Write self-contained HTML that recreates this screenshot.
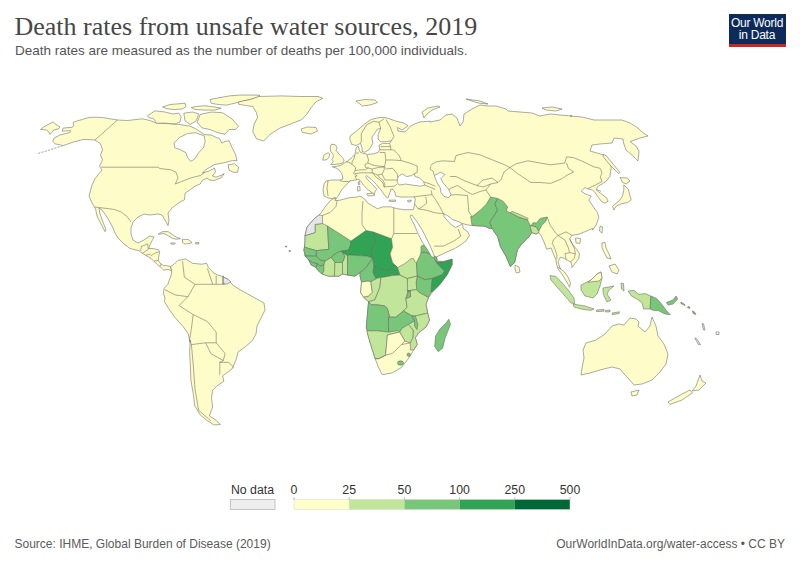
<!DOCTYPE html>
<html><head><meta charset="utf-8">
<style>
html,body{margin:0;padding:0;background:#fff;}
body{width:800px;height:564px;position:relative;overflow:hidden;font-family:"Liberation Sans",sans-serif;}
.title{position:absolute;left:14.5px;top:12px;font-family:"Liberation Serif",serif;font-size:26px;color:#474747;white-space:nowrap;}
.sub{position:absolute;left:15px;top:42.5px;font-size:13.5px;color:#555;white-space:nowrap;}
.logo{position:absolute;left:728.5px;top:14px;width:57px;height:32.5px;background:#0d2b5a;}
.logo .bar{position:absolute;left:0;bottom:0;width:100%;height:3px;background:#ce261e;}
.logo .t{position:absolute;left:0;top:2.6px;width:100%;text-align:center;color:#fff;font-size:12px;line-height:12.5px;letter-spacing:-0.25px;}
svg{position:absolute;left:0;top:0;}
.foot{position:absolute;top:537px;font-size:12px;color:#5b5b5b;white-space:nowrap;}
</style></head><body>
<div class="title">Death rates from unsafe water sources, 2019</div>
<div class="sub">Death rates are measured as the number of deaths per 100,000 individuals.</div>
<div class="logo"><div class="t">Our World<br>in Data</div><div class="bar"></div></div>
<svg width="800" height="564" viewBox="0 0 800 564">
<path d="M55.0,143.8 L52.8,141.2 L54.4,137.8 L60.0,135.0 L70.0,132.5 L70.6,130.6 L62.2,131.2 L63.1,128.1 L72.5,127.2 L73.8,125.6 L73.1,122.5 L76.2,121.2 L82.5,119.4 L88.8,117.5 L95.0,117.2 L102.5,117.5 L110.0,118.8 L117.5,120.0 L127.5,120.5 L142.5,118.8 L150.0,120.5 L156.2,123.0 L170.0,123.8 L180.0,124.5 L190.0,126.2 L195.5,128.7 L199.0,131.0 L204.3,134.5 L211.5,135.1 L216.3,137.5 L219.4,138.3 L221.8,143.1 L225.0,141.5 L229.0,140.7 L232.2,147.8 L235.4,154.2 L237.0,160.6 L232.3,160.6 L223.8,162.8 L214.5,164.5 L206.0,169.5 L202.5,172.8 L208.0,171.5 L214.5,168.2 L215.5,172.0 L212.5,176.0 L216.0,177.2 L222.0,175.0 L224.2,173.5 L221.0,178.0 L214.0,180.5 L210.0,180.2 L207.0,178.0 L202.5,180.2 L200.2,184.0 L195.0,186.2 L189.8,190.0 L185.2,193.0 L184.5,199.8 L180.0,202.0 L172.0,208.0 L168.0,213.0 L169.0,220.0 L168.0,225.6 L165.0,220.0 L162.0,215.0 L158.0,214.0 L150.0,215.0 L144.0,214.0 L138.0,217.0 L133.0,222.0 L131.0,228.0 L131.0,234.0 L133.0,240.0 L138.0,243.0 L144.0,240.0 L150.0,236.0 L154.0,237.0 L152.6,239.6 L150.4,244.0 L148.6,248.5 L153.0,248.5 L158.3,249.8 L159.7,251.6 L158.8,256.0 L158.3,260.4 L160.1,263.1 L163.7,265.7 L167.2,265.7 L170.7,266.6 L171.6,271.0 L168.1,269.3 L163.7,270.2 L160.1,266.6 L156.6,264.0 L153.9,261.3 L151.3,258.7 L146.8,256.0 L142.4,253.3 L138.9,250.7 L130.0,248.5 L124.0,244.0 L118.0,238.0 L115.0,233.0 L112.0,226.0 L107.0,217.0 L102.0,210.0 L99.0,208.0 L100.0,214.0 L103.0,222.0 L106.0,230.0 L105.0,231.6 L101.0,224.0 L97.0,216.0 L95.6,209.0 L92.0,203.0 L89.0,196.0 L92.0,185.0 L95.0,178.8 L98.8,173.8 L102.0,170.0 L99.5,166.2 L102.5,160.0 L100.5,155.0 L102.5,150.0 L100.5,143.8 L95.0,140.0 L83.8,139.4 L73.8,141.9 L63.1,145.6Z" fill="#fefcc8" stroke="#666660" stroke-width="0.55"/><path d="M170.7,266.6 L174.3,264.0 L177.8,260.4 L181.9,259.8 L185.5,258.9 L192.6,263.3 L201.4,264.2 L206.7,263.3 L208.5,267.7 L213.8,273.0 L217.4,274.8 L222.7,276.6 L228.0,279.3 L233.3,285.5 L240.4,289.9 L250.0,295.2 L264.0,303.0 L265.0,310.0 L261.0,318.0 L257.0,326.0 L256.0,334.0 L252.0,341.0 L245.0,347.0 L238.0,352.0 L236.0,360.0 L232.0,369.0 L222.7,375.8 L223.8,381.3 L217.1,385.8 L212.6,390.3 L211.5,398.1 L212.6,407.0 L209.3,416.0 L214.9,419.3 L220.4,424.5 L213.7,424.9 L207.0,420.4 L200.3,414.9 L194.7,405.9 L193.2,393.6 L190.9,380.2 L190.3,364.6 L189.6,351.2 L190.3,340.0 L189.9,342.2 L188.1,333.3 L182.8,326.2 L174.8,317.4 L168.6,308.5 L164.2,301.4 L165.1,297.9 L163.3,293.4 L164.2,288.1 L167.7,284.6 L171.3,274.8 L171.6,271.0Z" fill="#fefcc8" stroke="#666660" stroke-width="0.55"/><path d="M336.0,199.0 L328.0,198.0 L324.0,196.0 L323.0,190.0 L324.0,184.0 L326.0,181.0 L332.0,180.0 L340.0,180.0 L343.0,179.0 L342.0,174.0 L339.0,170.0 L336.0,168.0 L332.4,166.8 L336.6,166.3 L339.3,165.7 L341.9,164.8 L345.1,162.5 L347.8,160.9 L351.9,157.5 L355.0,154.4 L355.6,150.0 L356.9,146.9 L358.1,146.2 L360.0,151.9 L362.5,153.1 L367.5,154.4 L373.8,153.8 L378.1,152.3 L379.9,149.6 L379.0,145.2 L382.5,143.4 L389.6,143.4 L391.4,140.8 L386.0,141.7 L380.7,141.7 L378.1,139.0 L378.1,134.6 L380.7,128.4 L377.2,129.3 L374.5,133.7 L371.9,137.2 L372.8,143.4 L369.2,149.6 L364.8,152.3 L362.1,151.4 L362.1,147.9 L360.4,143.4 L356.0,145.5 L351.5,144.3 L349.7,138.1 L350.6,135.5 L357.7,130.1 L364.8,123.9 L371.0,119.5 L378.1,117.7 L384.3,117.3 L388.7,118.6 L396.7,121.3 L403.8,123.1 L408.2,125.7 L402.0,130.1 L397.6,127.5 L398.0,131.0 L405.0,132.0 L410.0,126.5 L415.0,123.8 L420.0,121.9 L430.0,121.2 L430.0,122.0 L440.0,120.0 L446.0,115.0 L452.0,114.0 L457.0,118.0 L460.0,126.0 L463.0,122.0 L464.0,114.0 L472.0,109.0 L480.0,105.0 L488.0,106.0 L496.0,106.0 L506.0,109.0 L508.0,111.0 L520.0,112.0 L532.0,113.0 L540.0,116.0 L550.0,114.0 L560.0,115.0 L572.0,116.0 L570.0,116.0 L582.0,117.0 L594.0,120.0 L610.0,120.0 L622.0,120.0 L630.0,123.0 L638.0,128.0 L642.0,132.0 L648.0,136.0 L640.0,138.0 L630.0,141.6 L636.0,146.0 L639.0,151.0 L638.0,161.0 L633.0,156.0 L626.0,150.0 L623.6,143.0 L623.0,139.0 L614.0,138.0 L612.0,143.0 L600.0,144.0 L592.0,145.0 L590.0,151.0 L604.0,155.0 L610.0,162.0 L608.8,160.0 L611.2,167.5 L610.0,176.2 L606.2,181.2 L602.5,183.8 L600.0,185.0 L597.5,186.9 L596.2,190.0 L601.2,193.8 L606.2,197.5 L608.1,201.2 L605.0,203.1 L601.2,201.2 L597.5,196.2 L595.0,192.5 L592.5,190.0 L587.5,188.8 L585.0,187.5 L581.2,191.2 L585.0,193.8 L591.2,196.2 L588.8,200.0 L593.8,207.5 L597.5,212.5 L598.8,217.5 L596.2,225.0 L592.5,230.0 L592.6,228.5 L584.5,231.9 L578.8,234.2 L571.9,235.4 L569.6,238.8 L571.9,243.4 L576.5,249.2 L579.4,253.8 L578.8,258.4 L575.3,263.0 L571.9,267.6 L571.9,265.3 L570.7,261.9 L566.1,259.6 L565.0,258.4 L560.3,257.3 L559.2,259.6 L558.0,261.9 L560.3,268.8 L564.5,272.0 L568.0,277.0 L570.5,283.0 L569.6,287.2 L568.4,284.9 L565.0,279.1 L561.5,273.4 L558.0,268.8 L556.9,265.3 L555.7,259.6 L553.4,253.8 L551.1,248.0 L546.5,249.2 L545.4,245.7 L543.1,240.0 L540.8,235.4 L538.8,232.6 L536.0,234.0 L531.7,232.6 L528.9,236.8 L521.8,243.9 L517.5,249.6 L514.7,262.4 L510.4,266.7 L506.2,256.7 L500.5,246.8 L497.7,236.8 L492.0,228.3 L489.1,228.3 L484.9,226.2 L472.1,225.5 L467.5,224.9 L462.1,223.5 L463.5,228.9 L467.5,231.5 L469.5,235.5 L466.1,240.8 L460.8,244.8 L454.2,248.8 L444.9,252.8 L436.9,256.8 L434.9,257.4 L436.5,257.5 L437.5,261.0 L443.4,261.5 L452.1,259.2 L452.1,264.8 L447.1,274.8 L439.7,284.7 L432.2,292.1 L428.5,297.5 L426.0,304.3 L427.7,313.1 L429.5,320.1 L426.0,327.1 L419.0,332.4 L415.4,337.6 L417.2,344.6 L413.7,349.9 L408.4,358.7 L401.4,367.5 L392.6,372.7 L383.9,374.5 L382.1,374.5 L378.6,367.5 L375.1,358.7 L370.7,344.6 L367.2,332.4 L366.3,327.1 L367.2,316.6 L368.1,306.1 L368.6,301.7 L363.7,297.3 L360.6,292.4 L361.2,286.2 L361.5,282.0 L360.0,276.0 L360.0,272.5 L355.0,276.2 L347.5,275.0 L342.5,274.0 L338.8,276.2 L334.4,276.2 L328.8,276.2 L322.0,274.0 L317.5,270.0 L316.2,267.5 L311.2,265.0 L308.8,260.0 L305.0,256.0 L303.8,250.0 L304.5,247.0 L305.0,241.0 L305.0,235.6 L307.0,227.0 L314.0,219.0 L319.0,215.0 L321.0,213.0 L325.0,207.0 L330.0,201.0 L335.0,197.0Z" fill="#fefcc8" stroke="#666660" stroke-width="0.55"/><path d="M200.3,114.4 L211.5,112.0 L222.6,112.8 L232.2,119.1 L238.6,126.3 L235.4,129.5 L229.0,129.5 L225.0,134.3 L217.8,132.7 L209.9,129.5 L201.9,127.9 L197.1,122.3Z" fill="#fefcc8" stroke="#666660" stroke-width="0.55"/><path d="M147.5,115.8 L155.0,110.8 L165.0,112.0 L172.5,113.9 L178.8,113.2 L181.2,117.0 L180.0,122.0 L175.0,123.9 L165.0,123.2 L156.2,123.2 L153.8,118.9 L148.8,117.6Z" fill="#fefcc8" stroke="#666660" stroke-width="0.55"/><path d="M162.5,107.0 L170.0,104.5 L177.5,103.9 L185.0,103.2 L186.2,106.4 L182.5,108.9 L175.0,109.5 L167.5,108.9Z" fill="#fefcc8" stroke="#666660" stroke-width="0.55"/><path d="M191.2,107.6 L196.2,106.4 L205.0,105.8 L215.0,107.0 L221.2,108.2 L215.0,110.1 L205.0,110.1 L195.0,109.5Z" fill="#fefcc8" stroke="#666660" stroke-width="0.55"/><path d="M210.0,99.5 L220.0,97.6 L230.0,95.8 L240.0,95.1 L252.0,95.0 L260.0,95.3 L256.7,97.8 L243.7,101.0 L234.0,103.4 L225.9,105.2 L216.1,104.2 L211.2,103.2Z" fill="#fefcc8" stroke="#666660" stroke-width="0.55"/><path d="M183.8,113.2 L192.5,112.0 L198.8,113.9 L196.2,120.8 L190.0,124.5 L185.0,120.8Z" fill="#fefcc8" stroke="#666660" stroke-width="0.55"/><path d="M228.0,164.9 L234.4,163.8 L238.6,167.0 L237.6,172.3 L233.3,172.3 L229.1,170.2Z" fill="#fefcc8" stroke="#666660" stroke-width="0.55"/><path d="M331.3,144.3 L335.0,144.5 L337.1,147.4 L336.1,150.6 L339.3,154.4 L342.5,157.6 L344.1,160.2 L343.0,162.9 L339.3,163.9 L334.0,164.5 L330.8,164.5 L333.4,161.3 L331.8,159.7 L333.4,156.5 L332.9,153.8 L330.8,151.7 L330.2,148.0 L330.8,145.3Z" fill="#fefcc8" stroke="#666660" stroke-width="0.55"/><path d="M323.9,154.9 L328.1,152.8 L329.7,153.8 L329.2,157.0 L327.0,159.7 L322.8,160.2 L323.3,157.0Z" fill="#fefcc8" stroke="#666660" stroke-width="0.55"/><path d="M301.0,129.0 L307.5,127.0 L316.0,127.5 L317.5,131.0 L311.0,134.0 L302.5,132.5Z" fill="#fefcc8" stroke="#666660" stroke-width="0.55"/><path d="M356.0,101.0 L365.0,99.5 L375.0,100.0 L377.5,102.5 L370.0,105.0 L362.5,106.0Z" fill="#fefcc8" stroke="#666660" stroke-width="0.55"/><path d="M422.0,112.0 L428.0,108.0 L438.0,106.0 L440.0,107.0 L432.0,110.0 L426.0,115.0 L424.0,118.0Z" fill="#fefcc8" stroke="#666660" stroke-width="0.55"/><path d="M542.0,108.0 L552.0,107.0 L562.0,109.0 L556.0,111.0 L546.0,110.0Z" fill="#fefcc8" stroke="#666660" stroke-width="0.55"/><path d="M466.0,99.0 L480.0,101.0 L488.0,104.0 L478.0,103.0Z" fill="#fefcc8" stroke="#666660" stroke-width="0.55"/><path d="M515.0,265.0 L519.0,267.0 L520.0,272.0 L516.4,273.0 L515.0,269.0Z" fill="#fefcc8" stroke="#666660" stroke-width="0.55"/><path d="M620.0,177.5 L627.5,178.1 L630.0,181.2 L626.2,183.8 L622.5,182.5Z" fill="#fefcc8" stroke="#666660" stroke-width="0.55"/><path d="M623.8,185.0 L628.1,188.8 L631.2,200.0 L627.5,202.5 L621.2,203.8 L616.2,206.2 L613.8,210.0 L612.5,206.2 L618.8,201.2 L622.5,196.2 L623.8,190.0Z" fill="#fefcc8" stroke="#666660" stroke-width="0.55"/><path d="M603.5,154.5 L606.0,155.5 L613.0,164.0 L620.0,172.5 L618.5,173.5 L611.0,166.0 L603.0,156.5Z" fill="#fefcc8" stroke="#666660" stroke-width="0.55"/><path d="M600.0,226.0 L602.5,227.0 L602.0,233.0 L599.5,231.0Z" fill="#fefcc8" stroke="#666660" stroke-width="0.55"/><path d="M575.5,238.0 L580.5,238.5 L580.0,243.4 L576.0,243.0Z" fill="#fefcc8" stroke="#666660" stroke-width="0.55"/><path d="M40.6,129.4 L43.8,126.9 L53.1,121.9 L55.0,123.8 L60.0,126.9 L58.8,128.8 L53.8,130.0 L51.9,132.5 L50.0,134.4 L48.8,131.9 L46.2,130.0Z" fill="#fefcc8" stroke="#666660" stroke-width="0.55"/><path d="M238.6,101.9 L250.4,99.5 L258.8,96.5 L281.3,95.9 L300.3,96.5 L318.1,96.5 L322.9,98.3 L315.8,101.9 L311.0,107.8 L306.3,114.9 L301.5,119.7 L289.6,124.4 L280.1,128.0 L270.6,134.0 L263.5,141.1 L256.4,138.7 L252.8,131.6 L254.0,124.4 L257.6,117.3 L256.4,112.6 L252.8,106.6 L238.6,104.3Z" fill="#fefcc8" stroke="#666660" stroke-width="0.55"/><path d="M602.0,243.0 L605.0,242.4 L606.0,248.0 L609.0,254.0 L611.0,259.0 L607.0,258.0 L604.0,252.0 L602.0,248.0Z" fill="#fefcc8" stroke="#666660" stroke-width="0.55"/><path d="M609.0,266.0 L615.0,264.0 L619.0,270.0 L617.0,274.0 L612.0,272.0Z" fill="#fefcc8" stroke="#666660" stroke-width="0.55"/><path d="M586.0,343.0 L596.0,340.0 L605.0,334.0 L612.0,326.0 L619.0,324.0 L624.0,325.0 L630.0,318.0 L636.0,319.0 L639.0,322.0 L638.0,326.0 L645.0,332.0 L650.0,326.0 L652.0,317.0 L656.0,326.0 L658.0,336.0 L664.0,344.0 L668.0,354.0 L666.0,364.0 L660.0,372.0 L652.0,380.0 L642.0,384.0 L634.0,385.0 L628.0,378.0 L624.0,374.0 L620.0,369.0 L612.0,367.0 L600.0,370.0 L590.0,373.0 L581.0,375.0 L582.0,368.0 L584.0,358.0 L583.0,350.0Z" fill="#fefcc8" stroke="#666660" stroke-width="0.55"/><path d="M631.0,392.0 L639.0,390.0 L637.0,395.0 L632.0,396.0Z" fill="#fefcc8" stroke="#666660" stroke-width="0.55"/><path d="M700.0,375.0 L702.0,381.0 L706.0,383.0 L699.0,390.0 L692.0,391.0 L696.0,386.0Z" fill="#fefcc8" stroke="#666660" stroke-width="0.55"/><path d="M668.0,402.0 L682.0,394.0 L690.0,390.0 L692.4,393.0 L682.0,400.0 L670.0,404.4Z" fill="#fefcc8" stroke="#666660" stroke-width="0.55"/><path d="M158.3,233.9 L162.8,231.6 L168.1,231.6 L172.5,234.7 L176.9,237.4 L180.5,238.7 L176.0,239.2 L172.5,238.3 L168.1,235.6 L163.7,233.4 L159.2,234.3Z" fill="#fefcc8" stroke="#666660" stroke-width="0.55"/><path d="M182.3,239.2 L188.5,239.6 L192.0,242.7 L188.5,243.6 L184.9,244.0 L182.7,242.7Z" fill="#fefcc8" stroke="#666660" stroke-width="0.55"/><path d="M170.7,242.9 L175.2,243.0 L174.5,244.2 L171.0,244.0Z" fill="#fefcc8" stroke="#666660" stroke-width="0.55"/><path d="M195.5,242.5 L199.0,242.6 L198.8,244.0 L195.6,244.0Z" fill="#fefcc8" stroke="#666660" stroke-width="0.55"/><path d="M305.0,235.6 L315.0,232.5 L315.0,224.4 L322.5,223.5 L327.5,226.0 L328.8,249.4 L316.2,250.6 L307.5,248.1 L304.5,247.0 L305.0,241.0Z" fill="#c2e699" stroke="#666660" stroke-width="0.55"/><path d="M319.0,215.0 L322.5,215.5 L322.5,223.5 L315.0,224.4 L315.0,232.5 L305.0,235.6 L307.0,227.0 L314.0,219.0Z" fill="#e6e6ea" stroke="#666660" stroke-width="0.55"/><path d="M327.5,226.0 L351.0,241.0 L350.6,245.0 L348.8,250.0 L341.2,251.2 L337.5,252.5 L333.8,255.0 L331.2,257.5 L325.0,261.2 L320.0,260.0 L316.2,256.2 L316.2,250.6 L328.8,249.4Z" fill="#78c679" stroke="#666660" stroke-width="0.55"/><path d="M304.5,247.0 L307.5,248.1 L316.2,250.6 L316.2,256.2 L307.5,256.2 L305.0,256.0 L305.0,253.8 L303.8,250.0Z" fill="#78c679" stroke="#666660" stroke-width="0.55"/><path d="M305.0,256.0 L316.2,256.2 L320.0,260.0 L325.0,261.2 L323.8,265.0 L320.0,266.2 L317.5,263.8 L312.5,262.5 L308.8,260.0Z" fill="#78c679" stroke="#666660" stroke-width="0.55"/><path d="M308.8,260.0 L312.5,262.5 L317.5,263.8 L316.2,267.5 L311.2,265.0Z" fill="#78c679" stroke="#666660" stroke-width="0.55"/><path d="M316.2,267.5 L317.5,263.8 L320.0,266.2 L323.8,265.0 L323.8,271.2 L322.0,274.0 L317.5,270.0Z" fill="#78c679" stroke="#666660" stroke-width="0.55"/><path d="M323.8,265.0 L325.0,261.2 L331.2,257.5 L333.8,260.0 L335.0,262.5 L334.4,276.2 L328.8,276.2 L322.0,274.0 L323.8,271.2Z" fill="#c2e699" stroke="#666660" stroke-width="0.55"/><path d="M331.2,257.5 L333.8,255.0 L337.5,252.5 L341.2,251.2 L342.5,252.5 L345.0,256.2 L343.8,260.0 L342.5,262.5 L335.0,262.5Z" fill="#78c679" stroke="#666660" stroke-width="0.55"/><path d="M335.0,262.5 L342.5,262.5 L342.5,274.0 L338.8,276.2 L334.4,276.2Z" fill="#c2e699" stroke="#666660" stroke-width="0.55"/><path d="M342.5,262.5 L343.8,260.0 L345.0,256.2 L342.5,252.5 L347.5,255.6 L347.5,275.0 L342.5,274.0Z" fill="#c2e699" stroke="#666660" stroke-width="0.55"/><path d="M351.0,241.0 L366.0,230.5 L373.5,232.0 L375.0,242.5 L371.2,251.2 L372.5,258.1 L367.5,256.2 L358.8,255.6 L350.0,255.0 L347.5,255.6 L342.5,252.5 L341.2,251.2 L348.8,250.0 L350.6,245.0Z" fill="#31a354" stroke="#666660" stroke-width="0.55"/><path d="M347.5,255.6 L350.0,255.0 L358.8,255.6 L367.5,256.2 L372.5,258.1 L368.8,263.8 L365.0,268.8 L360.0,272.5 L355.0,276.2 L347.5,275.0Z" fill="#78c679" stroke="#666660" stroke-width="0.55"/><path d="M373.5,232.0 L391.5,238.8 L392.5,247.5 L390.0,253.8 L392.5,262.5 L395.0,265.0 L387.5,271.2 L380.0,268.8 L373.8,266.2 L372.5,258.1 L371.2,251.2 L375.0,242.5Z" fill="#31a354" stroke="#666660" stroke-width="0.55"/><path d="M360.0,272.5 L365.0,268.8 L368.8,263.8 L372.5,258.1 L373.8,266.2 L373.1,272.5 L376.2,278.8 L371.0,281.5 L367.5,281.2 L361.5,282.0 L360.0,276.0Z" fill="#78c679" stroke="#666660" stroke-width="0.55"/><path d="M373.8,266.2 L380.0,268.8 L387.5,271.2 L395.0,265.0 L397.5,267.5 L400.0,275.0 L392.5,275.6 L385.0,276.9 L377.5,278.1 L376.2,278.8 L373.1,272.5Z" fill="#31a354" stroke="#666660" stroke-width="0.55"/><path d="M361.5,282.0 L367.5,281.2 L371.0,281.5 L371.1,283.7 L372.4,292.4 L368.6,296.1 L363.7,297.3 L360.6,292.4 L361.2,286.2Z" fill="#fefcc8" stroke="#666660" stroke-width="0.55"/><path d="M371.0,281.5 L376.2,278.8 L377.5,278.1 L381.0,277.5 L379.8,287.4 L374.9,299.8 L368.6,301.7 L363.7,297.3 L368.6,296.1 L372.4,292.4 L371.1,283.7Z" fill="#c2e699" stroke="#666660" stroke-width="0.55"/><path d="M381.0,277.5 L385.0,276.9 L392.5,275.6 L400.0,275.0 L407.4,278.5 L408.3,291.1 L405.9,298.6 L407.1,307.3 L403.4,311.0 L395.9,317.2 L389.7,317.2 L387.3,308.5 L384.8,306.0 L377.3,304.8 L371.1,304.8 L368.6,301.7 L374.9,299.8 L379.8,287.4Z" fill="#c2e699" stroke="#666660" stroke-width="0.55"/><path d="M397.5,267.5 L404.9,263.6 L411.1,258.6 L413.6,258.6 L414.9,262.0 L416.5,262.5 L417.3,276.0 L407.4,278.5 L400.0,275.0Z" fill="#c2e699" stroke="#666660" stroke-width="0.55"/><path d="M423.5,245.0 L428.0,250.0 L433.5,256.1 L426.0,252.4 L421.0,252.4 L421.0,246.2Z" fill="#78c679" stroke="#666660" stroke-width="0.55"/><path d="M421.0,252.4 L426.0,252.4 L433.5,256.1 L436.0,261.7 L438.4,264.8 L444.6,271.0 L442.2,274.8 L432.2,278.5 L424.8,279.7 L417.3,276.0 L416.5,262.5 L419.8,256.1Z" fill="#78c679" stroke="#666660" stroke-width="0.55"/><path d="M433.5,256.1 L436.5,257.0 L437.0,260.0 L436.0,261.7Z" fill="#78c679" stroke="#666660" stroke-width="0.55"/><path d="M436.0,261.7 L443.4,261.7 L452.1,259.2 L452.1,264.8 L447.1,274.8 L439.7,284.7 L432.2,292.1 L431.0,292.1 L431.6,282.2 L432.2,278.5 L442.2,274.8 L444.6,271.0 L438.4,264.8Z" fill="#31a354" stroke="#666660" stroke-width="0.55"/><path d="M417.3,276.0 L424.8,279.7 L432.2,278.5 L431.6,282.2 L431.0,292.1 L428.5,297.5 L418.6,292.1 L416.7,289.6 L416.1,282.2Z" fill="#78c679" stroke="#666660" stroke-width="0.55"/><path d="M407.4,278.5 L417.3,276.0 L416.1,282.2 L416.7,289.6 L407.4,290.9Z" fill="#c2e699" stroke="#666660" stroke-width="0.55"/><path d="M407.4,290.9 L410.5,291.0 L410.5,297.0 L406.0,298.6 L408.3,291.1Z" fill="#78c679" stroke="#666660" stroke-width="0.55"/><path d="M407.4,290.9 L416.7,289.6 L418.6,292.1 L428.5,297.5 L426.0,304.3 L427.7,313.1 L415.0,316.0 L412.1,315.9 L403.4,311.0 L407.1,307.3 L405.9,298.6 L410.5,297.0 L410.5,291.0Z" fill="#c2e699" stroke="#666660" stroke-width="0.55"/><path d="M368.6,301.7 L371.1,304.8 L377.3,304.8 L384.8,306.0 L387.3,308.5 L389.7,317.2 L388.5,317.2 L388.5,329.6 L388.5,332.1 L377.3,330.8 L367.4,330.8 L366.3,327.1 L367.2,316.6 L368.1,306.1Z" fill="#78c679" stroke="#666660" stroke-width="0.55"/><path d="M389.7,317.2 L395.9,317.2 L403.4,311.0 L412.1,315.9 L414.6,320.9 L408.3,324.6 L402.1,328.3 L399.7,332.1 L394.7,333.3 L388.5,332.1 L388.5,317.2Z" fill="#78c679" stroke="#666660" stroke-width="0.55"/><path d="M415.0,316.0 L427.7,313.1 L429.5,320.1 L426.0,327.1 L419.0,332.4 L415.4,337.6 L417.2,344.6 L413.7,349.9 L410.5,350.0 L410.2,342.9 L413.0,337.0 L413.0,330.0 L408.3,324.6 L414.6,320.9Z" fill="#c2e699" stroke="#666660" stroke-width="0.55"/><path d="M412.1,315.9 L415.0,316.0 L416.0,318.0 L417.8,324.5 L417.0,329.6 L414.6,325.9 L414.6,320.9Z" fill="#78c679" stroke="#666660" stroke-width="0.55"/><path d="M399.7,332.1 L402.1,328.3 L408.3,324.6 L413.0,330.0 L413.0,337.0 L410.2,342.9 L404.9,341.1Z" fill="#c2e699" stroke="#666660" stroke-width="0.55"/><path d="M367.4,330.8 L377.3,330.8 L388.5,332.1 L397.9,330.6 L399.7,332.1 L394.7,333.3 L387.4,335.0 L385.6,355.2 L378.6,358.7 L375.1,358.7 L370.7,344.6 L367.2,332.4Z" fill="#c2e699" stroke="#666660" stroke-width="0.55"/><path d="M387.4,335.0 L394.7,333.3 L399.7,332.1 L404.9,341.1 L401.4,344.6 L392.6,353.4 L385.6,355.2Z" fill="#fefcc8" stroke="#666660" stroke-width="0.55"/><path d="M472.1,225.5 L484.9,226.2 L489.1,228.3 L492.0,228.3 L489.8,222.0 L493.4,217.0 L497.7,209.9 L494.8,204.2 L497.7,198.5 L490.6,197.1 L486.3,204.2 L480.6,209.9 L473.5,215.6 L470.7,217.0Z" fill="#78c679" stroke="#666660" stroke-width="0.55"/><path d="M492.0,228.3 L497.7,236.8 L500.5,246.8 L506.2,256.7 L510.4,266.7 L514.7,262.4 L517.5,249.6 L521.8,243.9 L528.9,236.8 L531.7,232.6 L530.3,226.9 L533.1,222.7 L536.5,223.0 L540.2,218.4 L547.3,217.0 L545.9,221.2 L541.7,225.5 L538.8,231.2 L536.0,226.9 L530.3,225.5 L527.5,219.8 L518.9,217.0 L510.4,212.7 L506.2,211.3 L507.6,207.0 L503.3,201.4 L497.7,198.5 L494.8,204.2 L497.7,209.9 L493.4,217.0 L489.8,222.0Z" fill="#78c679" stroke="#666660" stroke-width="0.55"/><path d="M510.4,212.7 L518.9,217.0 L527.5,219.8 L528.2,218.4 L518.9,214.1 L511.9,211.3Z" fill="#c2e699" stroke="#666660" stroke-width="0.55"/><path d="M530.3,225.5 L536.0,226.9 L538.8,231.2 L538.8,232.6 L536.0,234.0 L531.7,232.6 L530.3,226.9Z" fill="#c2e699" stroke="#666660" stroke-width="0.55"/><path d="M550.0,275.6 L556.0,276.4 L563.0,284.0 L569.0,291.0 L574.0,298.0 L574.6,303.6 L571.0,303.0 L565.0,296.0 L557.0,287.0 L551.0,280.0Z" fill="#c2e699" stroke="#666660" stroke-width="0.55"/><path d="M573.0,304.0 L585.0,306.0 L594.0,309.0 L591.0,310.4 L581.0,309.0 L574.0,307.0Z" fill="#c2e699" stroke="#666660" stroke-width="0.55"/><path d="M581.0,285.0 L591.0,280.0 L597.0,274.0 L601.0,272.0 L602.0,278.0 L600.0,286.0 L597.0,294.0 L593.0,298.0 L585.0,296.0 L581.0,290.0Z" fill="#c2e699" stroke="#666660" stroke-width="0.55"/><path d="M588.0,282.4 L591.0,280.0 L597.0,274.0 L601.0,272.0 L602.0,278.0 L599.0,281.0 L593.0,281.6Z" fill="#fefcc8" stroke="#666660" stroke-width="0.55"/><path d="M603.0,288.0 L614.0,286.0 L609.0,290.0 L607.0,294.0 L611.0,300.0 L607.0,302.0 L604.0,296.0 L603.0,292.0Z" fill="#c2e699" stroke="#666660" stroke-width="0.55"/><path d="M628.2,291.1 L633.9,290.3 L638.8,294.4 L645.2,293.6 L650.9,296.0 L650.1,309.0 L643.6,309.0 L642.0,302.5 L637.1,299.2 L631.4,296.0Z" fill="#c2e699" stroke="#666660" stroke-width="0.55"/><path d="M650.9,296.0 L656.6,298.4 L661.5,304.1 L666.4,310.6 L670.4,314.7 L664.8,313.9 L658.2,310.6 L653.4,310.6 L650.1,309.0Z" fill="#78c679" stroke="#666660" stroke-width="0.55"/><path d="M666.4,302.5 L672.9,300.0 L676.1,296.0 L677.7,299.2 L672.9,304.1 L668.0,305.0Z" fill="#78c679" stroke="#666660" stroke-width="0.55"/><path d="M681.0,302.0 L684.5,304.3 L685.0,305.6 L680.8,303.4Z" fill="#78c679" stroke="#666660" stroke-width="0.55"/><path d="M688.0,306.5 L690.0,307.2 L689.5,308.5 L687.5,307.6Z" fill="#78c679" stroke="#666660" stroke-width="0.55"/><path d="M692.5,310.8 L695.0,312.5 L695.8,314.7 L693.0,313.2Z" fill="#78c679" stroke="#666660" stroke-width="0.55"/><path d="M621.0,283.0 L623.5,283.5 L624.0,291.0 L621.5,289.0Z" fill="#c2e699" stroke="#666660" stroke-width="0.55"/><path d="M596.5,310.0 L604.0,309.5 L604.0,311.2 L596.5,311.5Z" fill="#c2e699" stroke="#666660" stroke-width="0.55"/><path d="M605.5,310.5 L610.0,310.0 L610.0,311.8 L605.5,312.0Z" fill="#c2e699" stroke="#666660" stroke-width="0.55"/><path d="M612.0,313.0 L619.5,311.8 L619.0,313.5 L612.5,314.7Z" fill="#c2e699" stroke="#666660" stroke-width="0.55"/><path d="M702.0,323.6 L703.5,323.8 L705.0,330.0 L703.5,330.0Z" fill="#e6e6ea" stroke="#666660" stroke-width="0.55"/><path d="M694.8,338.0 L696.5,338.5 L700.5,344.5 L698.5,344.7Z" fill="#e6e6ea" stroke="#666660" stroke-width="0.55"/><path d="M222.7,276.6 L228.0,279.3 L231.0,282.0 L227.0,284.0 L222.7,283.7Z" fill="#e6e6ea" stroke="#666660" stroke-width="0.55"/><path d="M285.6,246.0 L286.8,246.0 L286.8,247.0 L285.6,247.0Z" fill="#9a9a90" stroke="#666660" stroke-width="0.55"/><path d="M289.0,250.6 L290.3,250.6 L290.3,251.6 L289.0,251.6Z" fill="#9a9a90" stroke="#666660" stroke-width="0.55"/><path d="M716.0,332.0 L719.0,332.0 L719.0,334.5 L716.0,334.5Z" fill="#fefcc8" stroke="#666660" stroke-width="0.55"/><path d="M448.8,319.2 L450.5,324.5 L445.3,337.6 L442.6,348.2 L438.2,351.7 L434.7,346.4 L435.6,335.9 L440.0,328.9 L446.1,322.7Z" fill="#78c679" stroke="#666660" stroke-width="0.55"/><path d="M63,145.6 L50,149.8 L37,153.8" fill="none" stroke="#a8a89a" stroke-width="1" stroke-dasharray="2.2 1.2"/><path d="M337.5,198.3 L336.0,206.5 L330.0,212.5 L322.5,215.5" fill="none" stroke="#666660" stroke-width="0.55"/><path d="M363.0,201.0 L362.0,212.5 L362.0,224.5 L366.0,230.5" fill="none" stroke="#666660" stroke-width="0.55"/><path d="M393.8,207.5 L393.8,233.5 L391.5,238.8" fill="none" stroke="#666660" stroke-width="0.55"/><path d="M393.8,233.5 L417.0,233.5" fill="none" stroke="#666660" stroke-width="0.55"/><path d="M395.0,265.0 L397.5,267.5" fill="none" stroke="#666660" stroke-width="0.55"/><path d="M401.4,344.6 L410.2,342.9" fill="none" stroke="#666660" stroke-width="0.55"/><path d="M375.1,358.7 L378.6,358.7 L385.6,355.2" fill="none" stroke="#666660" stroke-width="0.55"/><path d="M117.5,120.0 L95.0,140.0" fill="none" stroke="#666660" stroke-width="0.55"/><path d="M101.2,167.2 L158.1,167.2 L160.0,168.6 L170.6,169.7 L176.0,172.3 L178.0,177.6 L175.4,184.0 L183.4,180.8 L191.9,177.6 L200.4,175.5 L204.6,172.3" fill="none" stroke="#666660" stroke-width="0.55"/><path d="M94.8,207.0 L114.2,209.4 L120.8,211.8 L127.2,216.7 L131.0,222.0" fill="none" stroke="#666660" stroke-width="0.55"/><path d="M140.6,250.7 L141.5,246.3 L144.2,245.4 L146.8,244.0 L147.7,244.0 L148.2,248.5" fill="none" stroke="#666660" stroke-width="0.55"/><path d="M142.4,253.3 L147.7,249.8 L148.6,248.5" fill="none" stroke="#666660" stroke-width="0.55"/><path d="M145.9,255.1 L150.4,254.2" fill="none" stroke="#666660" stroke-width="0.55"/><path d="M150.4,256.0 L154.8,253.3 L159.2,251.6" fill="none" stroke="#666660" stroke-width="0.55"/><path d="M153.9,261.3 L158.3,260.4" fill="none" stroke="#666660" stroke-width="0.55"/><path d="M160.1,266.6 L161.0,264.0" fill="none" stroke="#666660" stroke-width="0.55"/><path d="M182.6,261.3 L184.3,277.2 L195.0,284.3 L187.9,296.7 L175.5,295.0 L164.8,289.6" fill="none" stroke="#666660" stroke-width="0.55"/><path d="M207.4,268.4 L212.7,284.3" fill="none" stroke="#666660" stroke-width="0.55"/><path d="M216.2,275.5 L216.2,284.3" fill="none" stroke="#666660" stroke-width="0.55"/><path d="M223.3,275.5 L223.3,284.3" fill="none" stroke="#666660" stroke-width="0.55"/><path d="M195.0,284.3 L225.1,284.3" fill="none" stroke="#666660" stroke-width="0.55"/><path d="M179.0,305.6 L187.9,296.7" fill="none" stroke="#666660" stroke-width="0.55"/><path d="M179.0,305.6 L193.2,314.5 L191.4,328.7 L189.6,339.3 L191.4,344.6" fill="none" stroke="#666660" stroke-width="0.55"/><path d="M193.2,314.5 L207.4,321.6 L216.2,332.2 L216.2,342.8 L205.6,342.8 L191.4,344.6" fill="none" stroke="#666660" stroke-width="0.55"/><path d="M216.2,342.8 L225.1,353.5 L223.3,360.6 L210.9,353.5 L205.6,342.8" fill="none" stroke="#666660" stroke-width="0.55"/><path d="M191.4,344.6 L193.2,364.1 L195.0,388.9 L198.5,410.2 L210.9,420.9" fill="none" stroke="#666660" stroke-width="0.55"/><path d="M223.3,360.6 L219.8,362.3 L228.7,362.3 L234.0,367.7" fill="none" stroke="#666660" stroke-width="0.55"/><path d="M219.8,362.3 L219.8,374.8" fill="none" stroke="#666660" stroke-width="0.55"/><path d="M340.0,180.5 L343.0,181.5 L348.0,181.5 L351.0,181.0" fill="none" stroke="#666660" stroke-width="0.55"/><path d="M328.0,181.0 L327.0,188.0 L328.0,196.0" fill="none" stroke="#666660" stroke-width="0.55"/><path d="M346.0,161.8 L349.0,162.3 L352.0,164.5 L355.8,167.5 L355.0,170.5 L353.5,173.5 L357.2,175.8 L355.0,176.5 L357.2,180.2" fill="none" stroke="#666660" stroke-width="0.55"/><path d="M355.0,154.6 L354.0,158.5 L352.0,162.0 L352.0,164.5" fill="none" stroke="#666660" stroke-width="0.55"/><path d="M356.0,153.0 L359.0,153.0" fill="none" stroke="#666660" stroke-width="0.55"/><path d="M355.0,170.5 L361.0,169.8 L365.5,169.8 L368.5,167.5" fill="none" stroke="#666660" stroke-width="0.55"/><path d="M355.0,173.5 L361.0,172.8 L368.5,172.8 L372.2,172.8" fill="none" stroke="#666660" stroke-width="0.55"/><path d="M367.0,154.8 L368.5,160.0 L367.8,163.0 L364.8,164.5 L365.5,167.5 L372.2,169.0 L378.2,167.5 L384.2,166.8" fill="none" stroke="#666660" stroke-width="0.55"/><path d="M367.8,163.0 L373.0,165.2 L378.2,166.0 L384.2,166.8" fill="none" stroke="#666660" stroke-width="0.55"/><path d="M372.2,169.0 L372.2,172.8 L377.5,175.0 L382.0,174.2 L384.2,169.8 L384.2,166.8" fill="none" stroke="#666660" stroke-width="0.55"/><path d="M379.8,152.5 L385.0,152.5 L385.8,160.0 L385.0,164.5 L384.2,166.8 L386.5,169.0 L392.5,168.2 L397.0,173.5 L398.0,178.0" fill="none" stroke="#666660" stroke-width="0.55"/><path d="M379.5,149.8 L391.0,149.8" fill="none" stroke="#666660" stroke-width="0.55"/><path d="M380.5,146.6 L390.5,146.6" fill="none" stroke="#666660" stroke-width="0.55"/><path d="M385.8,160.0 L393.0,160.0 L401.3,160.6" fill="none" stroke="#666660" stroke-width="0.55"/><path d="M389.6,143.4 L390.5,146.6 L391.0,149.8 L393.8,150.0 L399.1,155.3 L401.3,160.6" fill="none" stroke="#666660" stroke-width="0.55"/><path d="M382.0,174.2 L385.0,180.0 L397.0,180.0" fill="none" stroke="#666660" stroke-width="0.55"/><path d="M372.2,172.8 L376.0,177.0 L380.0,180.0 L383.0,183.0 L384.0,187.0" fill="none" stroke="#666660" stroke-width="0.55"/><path d="M377.5,175.0 L380.0,178.0 L383.0,180.0 L385.0,185.0 L384.0,187.0" fill="none" stroke="#666660" stroke-width="0.55"/><path d="M384.0,187.0 L390.0,186.5 L395.0,186.0 L397.0,184.0" fill="none" stroke="#666660" stroke-width="0.55"/><path d="M386.0,119.5 L389.6,125.7 L394.0,136.3 L391.4,140.8" fill="none" stroke="#666660" stroke-width="0.55"/><path d="M360.4,143.4 L361.3,141.7 L361.3,133.7 L366.6,124.8 L373.7,121.3 L379.0,122.2 L384.3,118.6" fill="none" stroke="#666660" stroke-width="0.55"/><path d="M379.0,122.2 L380.7,128.4" fill="none" stroke="#666660" stroke-width="0.55"/><path d="M401.3,160.6 L411.9,163.8 L417.2,166.0 L417.2,172.3 L414.0,173.9" fill="none" stroke="#666660" stroke-width="0.55"/><path d="M431.1,166.0 L430.0,169.1 L433.2,171.3 L434.3,175.5" fill="none" stroke="#666660" stroke-width="0.55"/><path d="M430.5,165.2 L436.0,162.0 L442.5,160.8 L454.5,161.5 L456.0,155.5 L468.0,152.5 L480.0,154.8 L489.0,158.5 L504.0,164.5 L510.0,167.5" fill="none" stroke="#666660" stroke-width="0.55"/><path d="M510.0,167.5 L516.0,163.8 L528.0,160.8 L540.0,163.0 L550.6,164.8 L564.8,163.0 L566.6,156.8 L573.7,157.7 L582.5,161.3 L593.2,166.6 L600.3,168.4 L602.0,172.8 L600.3,177.2 L602.0,181.6" fill="none" stroke="#666660" stroke-width="0.55"/><path d="M510.0,167.5 L504.0,172.0 L501.0,179.5 L498.0,182.5 L490.5,184.0 L486.0,190.0 L490.6,197.1" fill="none" stroke="#666660" stroke-width="0.55"/><path d="M510.0,167.5 L517.5,173.5 L531.0,182.5 L540.0,182.5 L550.6,183.4 L561.3,179.0 L566.6,175.4 L573.7,171.9 L568.4,168.4 L566.6,163.0" fill="none" stroke="#666660" stroke-width="0.55"/><path d="M450.0,176.5 L456.0,176.5 L465.0,181.0 L477.0,185.5 L483.0,187.0 L490.5,184.0" fill="none" stroke="#666660" stroke-width="0.55"/><path d="M444.0,196.0 L450.0,188.5 L457.5,185.5 L466.5,191.5 L472.5,194.5 L480.0,191.5 L486.0,190.0" fill="none" stroke="#666660" stroke-width="0.55"/><path d="M444.0,196.0 L456.0,194.5 L467.5,195.6 L468.8,211.6 L471.4,215.6 L470.7,217.0" fill="none" stroke="#666660" stroke-width="0.55"/><path d="M477.0,185.5 L483.0,180.0 L492.0,178.0 L498.0,182.5" fill="none" stroke="#666660" stroke-width="0.55"/><path d="M423.6,181.9 L430.0,184.0 L435.3,186.2" fill="none" stroke="#666660" stroke-width="0.55"/><path d="M424.7,185.1 L430.0,187.2 L435.3,189.4" fill="none" stroke="#666660" stroke-width="0.55"/><path d="M431.1,190.4 L432.1,194.7" fill="none" stroke="#666660" stroke-width="0.55"/><path d="M414.0,196.8 L422.6,195.7 L432.1,194.7" fill="none" stroke="#666660" stroke-width="0.55"/><path d="M432.1,194.7 L435.6,199.6 L439.6,206.3 L443.5,213.6" fill="none" stroke="#666660" stroke-width="0.55"/><path d="M418.3,208.9 L426.3,210.2 L435.6,212.9 L443.5,213.6" fill="none" stroke="#666660" stroke-width="0.55"/><path d="M414.0,203.0 L418.3,208.9" fill="none" stroke="#666660" stroke-width="0.55"/><path d="M425.7,196.8 L426.8,203.2 L422.0,207.0 L418.3,208.9" fill="none" stroke="#666660" stroke-width="0.55"/><path d="M434.2,246.1 L443.5,246.1 L454.2,240.8 L460.8,236.2 L458.2,228.9" fill="none" stroke="#666660" stroke-width="0.55"/><path d="M547.3,217.0 L550.0,225.0" fill="none" stroke="#666660" stroke-width="0.55"/><path d="M550.0,225.0 L555.7,233.1 L558.0,235.4 L553.4,240.0 L552.3,243.4 L554.6,248.0 L556.9,255.0 L556.9,259.6" fill="none" stroke="#666660" stroke-width="0.55"/><path d="M558.0,235.4 L566.1,231.9 L571.9,235.4" fill="none" stroke="#666660" stroke-width="0.55"/><path d="M558.0,235.4 L565.0,240.0 L568.4,248.0 L569.6,252.6 L565.0,253.8 L566.1,259.6" fill="none" stroke="#666660" stroke-width="0.55"/><path d="M569.6,238.8 L574.2,248.0 L575.3,252.6 L575.3,253.8 L574.2,258.4 L570.7,261.9" fill="none" stroke="#666660" stroke-width="0.55"/><path d="M569.6,252.6 L575.3,253.8" fill="none" stroke="#666660" stroke-width="0.55"/><path d="M558.0,267.6 L561.0,269.0" fill="none" stroke="#666660" stroke-width="0.55"/><path d="M602.0,181.6 L595.0,185.2 L587.8,188.7" fill="none" stroke="#666660" stroke-width="0.55"/><path d="M596.7,189.6 L601.1,191.4" fill="none" stroke="#666660" stroke-width="0.55"/><ellipse cx="400.5" cy="363" rx="3" ry="2.2" fill="#78c679" stroke="#666660" stroke-width="0.55"/><ellipse cx="408.7" cy="354.7" rx="1.7" ry="1.7" fill="#78c679" stroke="#666660" stroke-width="0.55"/><path d="M174.0,143.1 L179.6,137.5 L187.5,133.5 L195.5,132.7 L204.3,135.9 L205.1,141.5 L203.5,147.8 L198.7,152.6 L194.7,159.0 L190.7,161.4 L187.5,157.4 L185.9,152.6 L179.6,149.4 L174.8,147.8Z" fill="#fff" stroke="#666660" stroke-width="0.55"/><path d="M335.0,200.6 L338.8,195.0 L341.9,189.4 L346.2,185.0 L350.0,181.0 L354.9,180.0 L358.8,179.5 L360.2,180.5 L363.6,185.3 L368.5,190.2 L372.4,193.1 L373.9,195.1 L375.3,191.2 L376.8,189.2 L372.4,184.4 L367.5,179.5 L365.6,176.6 L366.6,175.6 L371.4,179.5 L376.3,184.4 L379.2,188.3 L381.2,190.2 L383.1,193.1 L386.1,197.0 L388.0,198.0 L389.0,195.1 L390.0,192.2 L390.9,189.2 L392.9,189.2 L394.8,192.2 L395.8,196.1 L400.7,197.0 L408.5,197.0 L414.3,197.0 L415.3,199.0 L414.3,205.8 L413.4,209.7 L404.6,209.7 L396.8,208.7 L390.9,206.8 L383.1,206.8 L377.3,208.7 L372.4,205.8 L367.5,202.9 L364.6,199.0 L361.7,197.0 L359.7,196.1 L356.8,197.0 L348.8,197.8 L340.0,200.2Z" fill="#fff" stroke="#666660" stroke-width="0.55"/><path d="M398.1,176.6 L402.3,173.9 L406.6,176.6 L411.9,175.5 L414.0,173.9 L415.1,176.6 L419.4,177.7 L423.6,181.9 L424.7,185.1 L420.4,186.2 L411.9,185.1 L405.5,184.0 L399.1,185.1 L397.0,181.9Z" fill="#fff" stroke="#666660" stroke-width="0.55"/><path d="M434.3,175.5 L440.6,172.3 L444.9,174.5 L440.8,178.7 L443.5,183.5 L448.5,189.0 L451.0,194.7 L448.8,197.5 L444.0,196.5 L441.0,192.5 L440.3,188.0 L437.0,182.5 L435.2,178.0Z" fill="#fff" stroke="#666660" stroke-width="0.55"/><path d="M410.3,215.6 L412.0,215.0 L418.3,223.5 L422.3,230.2 L426.3,238.2 L430.2,246.1 L433.6,254.1 L434.9,257.4 L431.6,256.8 L427.6,250.1 L422.3,242.1 L418.3,234.2 L414.3,224.9 L410.3,216.9Z" fill="#fff" stroke="#666660" stroke-width="0.55"/><path d="M443.5,213.6 L447.5,215.6 L452.8,219.6 L458.2,221.5 L462.1,223.5 L460.8,224.9 L458.2,226.2 L455.5,227.5 L451.5,224.9 L447.5,220.9 L444.2,216.9Z" fill="#fff" stroke="#666660" stroke-width="0.55"/><path d="M357.3,186.8 L359.8,186.3 L360.2,190.5 L357.8,191.2Z" fill="#fefcc8" stroke="#666660" stroke-width="0.55"/><path d="M358.3,181.8 L359.7,181.5 L359.7,184.5 L358.3,184.5Z" fill="#fefcc8" stroke="#666660" stroke-width="0.55"/><path d="M366.6,193.8 L373.5,193.1 L374.4,195.6 L368.0,195.8Z" fill="#fefcc8" stroke="#666660" stroke-width="0.55"/><path d="M389.0,200.2 L395.8,200.0 L395.5,201.4 L389.5,201.4Z" fill="#fefcc8" stroke="#666660" stroke-width="0.55"/><path d="M407.5,200.5 L411.4,200.0 L410.5,202.0 L408.0,202.0Z" fill="#fefcc8" stroke="#666660" stroke-width="0.55"/>

<g font-family="Liberation Sans, sans-serif" font-size="12.3" fill="#333">
<text x="252.5" y="493.5" text-anchor="middle">No data</text>
<rect x="230.5" y="499.5" width="44.5" height="10" fill="#eeeeee" stroke="#b0b0b0" stroke-width="0.7"/>
<rect x="294" y="499.5" width="55.2" height="10" fill="#ffffcc"/>
<rect x="349.2" y="499.5" width="55.2" height="10" fill="#c2e699"/>
<rect x="404.4" y="499.5" width="55.2" height="10" fill="#78c679"/>
<rect x="459.6" y="499.5" width="55.2" height="10" fill="#31a354"/>
<rect x="514.8" y="499.5" width="55.2" height="10" fill="#006837"/>
<rect x="294" y="499.5" width="276" height="10" fill="none" stroke="#d8d8c8" stroke-width="0.5"/>
<g stroke="#999" stroke-width="0.6"><line x1="294" y1="497" x2="294" y2="500"/><line x1="349.2" y1="497" x2="349.2" y2="500"/><line x1="404.4" y1="497" x2="404.4" y2="500"/><line x1="459.6" y1="497" x2="459.6" y2="500"/><line x1="514.8" y1="497" x2="514.8" y2="500"/><line x1="570" y1="497" x2="570" y2="500"/></g>
<text x="294" y="493.5" text-anchor="middle">0</text>
<text x="349.2" y="493.5" text-anchor="middle">25</text>
<text x="404.4" y="493.5" text-anchor="middle">50</text>
<text x="459.6" y="493.5" text-anchor="middle">100</text>
<text x="514.8" y="493.5" text-anchor="middle">250</text>
<text x="570" y="493.5" text-anchor="middle">500</text>
</g>
</svg>
<div class="foot" style="left:14.5px">Source: IHME, Global Burden of Disease (2019)</div>
<div class="foot" style="right:15px">OurWorldInData.org/water-access • CC BY</div>
</body></html>
